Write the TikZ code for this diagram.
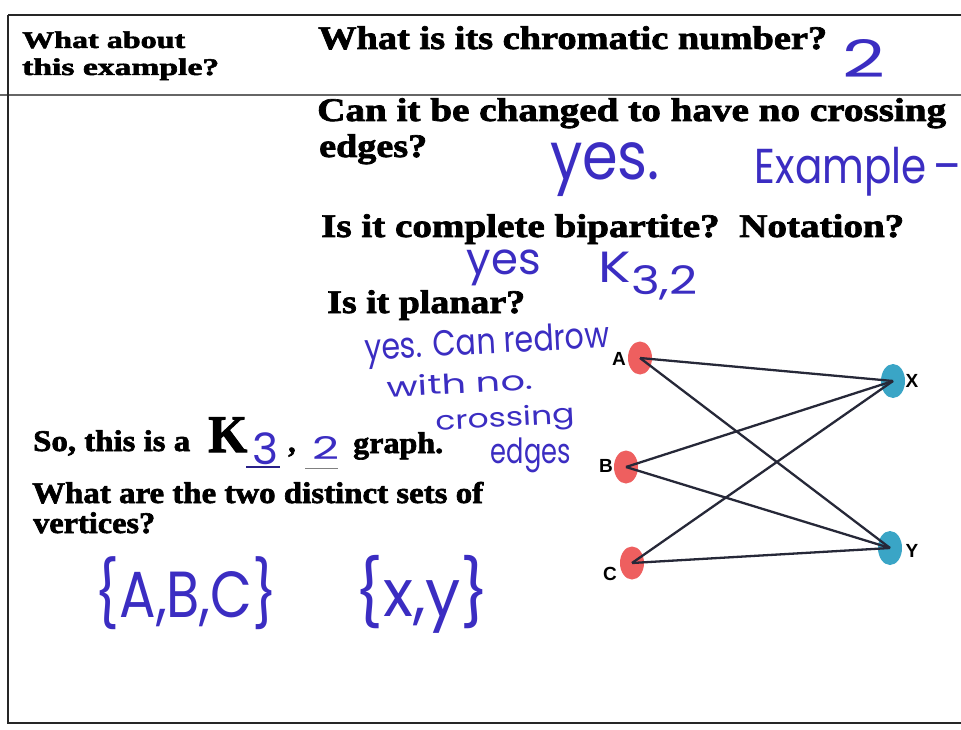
\documentclass[tikz,border=0pt]{standalone}
\usepackage{fontspec}
\usepackage{graphicx}
\usetikzlibrary{shapes.geometric}
\newfontfamily\schfont{Liberation Serif}[BoldFeatures={FakeBold=2}]
\newfontfamily\handfont{Poppins}
\newfontfamily\labfont{Liberation Sans}
\definecolor{ink}{HTML}{3B2DC2}
\definecolor{nodered}{HTML}{EE5F5F}
\definecolor{nodeblue}{HTML}{3AA5C6}
\definecolor{edgec}{HTML}{262838}
\newcommand{\pw}[2]{\resizebox{#1pt}{\height}{#2}}
\newcommand{\hw}[3]{\resizebox*{#1pt}{#2pt}{\handfont #3}}
\begin{document}
\begin{tikzpicture}[x=1pt,y=-1pt,
  print/.style={anchor=base west, inner sep=0, font=\schfont\fontsize{33}{36}\selectfont\bfseries},
  small/.style={print, font=\schfont\fontsize{24}{26}\selectfont\bfseries},
  lower/.style={print, font=\schfont\fontsize{30}{32}\selectfont\bfseries},
  hand/.style={anchor=center, inner sep=0, text=ink},
  rule/.style={line width=2pt, draw=black!85},
  vred/.style={ellipse, fill=nodered, minimum width=24pt, minimum height=33pt, inner sep=0},
  vblue/.style={ellipse, fill=nodeblue, minimum width=24pt, minimum height=34pt, inner sep=0},
  lbl/.style={font=\labfont\bfseries\fontsize{19}{19}\selectfont, inner sep=0},
  gedge/.style={draw=edgec, line width=2.3pt},
  uline/.style={draw=ink!70!black, line width=1.5pt}]
\useasboundingbox (0,0) rectangle (961,730);
\fill[white] (0,0) rectangle (961,730);
% table rules
\coordinate (tl) at (8,15);
\coordinate (tr) at (961,15);
\coordinate (ml) at (0,95);
\coordinate (mr) at (961,95);
\coordinate (bl) at (8,723);
\coordinate (br) at (961,723);
\draw[rule, line width=2.5pt] (tl) -- (tr);
\draw[rule, line width=1.5pt, draw=black!60] (ml) -- (mr);
\draw[rule] (tl) -- (bl) -- (br);
% printed text
\node[small] (t1) at (22,48) {\pw{163}{What about}};
\node[small] (t2) at (22,75) {\pw{197}{this example?}};
\node[print] (q0) at (318,49) {\pw{509}{What is its chromatic number?}};
\node[print] (q1) at (317,121) {\pw{629}{Can it be changed to have no crossing}};
\node[print] (q1b) at (319,157) {\pw{108}{edges?}};
\node[print] (q2) at (321,237) {\pw{583}{Is it complete bipartite?\ \ Notation?}};
\node[print] (q3) at (327,313) {\pw{198}{Is it planar?}};
\node[lower] (s1) at (33,451) {\pw{157}{So, this is a}};
\node[print, font=\schfont\fontsize{53}{53}\selectfont\bfseries] (K) at (208,452) {\pw{39}{K}};
\node[lower] (comma) at (288,452) {,};
\node[lower] (s2) at (353,453) {\pw{90}{graph.}};
\node[lower] (s3) at (32,503) {\pw{451}{What are the two distinct sets of}};
\node[lower] (s4) at (33,533) {\pw{122}{vertices?}};
% handwritten answers
\node[hand] (h0) at (864,59) {\hw{43}{38}{2}};
\node[hand] (h1) at (605,170) {\hw{110}{54}{yes.}};
\node[hand] (h2) at (858,172) {\hw{206}{49}{Example\,–}};
\node[hand] (h3) at (504,268) {\hw{74}{36}{yes}};
\node[hand] (h4) at (648,276) {\hw{99}{48}{K\raisebox{-0.5ex}{\small 3,2}}};
\node[hand, rotate=3] (h5) at (487,345) {\hw{245}{36}{yes. Can redrow}};
\node[hand, rotate=3] (h6) at (460,383) {\hw{146}{21}{with no.}};
\node[hand, rotate=3] (h7) at (505,420) {\hw{139}{27}{crossing}};
\node[hand] (h8) at (531,455) {\hw{80}{35}{edges}};
\node[hand] (h9) at (265,449) {\hw{26}{32}{3}};
\node[hand] (h10) at (326,448) {\hw{27}{23}{2}};
\coordinate (u1a) at (246,467); \coordinate (u1b) at (280,467);
\coordinate (u2a) at (305,468); \coordinate (u2b) at (338,468);
\draw[uline] (u1a) -- (u1b);
\draw[uline, line width=1pt, draw=black!50] (u2a) -- (u2b);
\node[hand] (h11) at (186,593) {\hw{183}{73}{\{A,B,C\}}};
\node[hand] (h12) at (422,594) {\hw{135}{78}{\{x,y\}}};
% graph
\node[vred] (A) at (640,358) {};
\node[vred] (B) at (626,467) {};
\node[vred] (C) at (632,563) {};
\node[vblue] (X) at (893,381) {};
\node[vblue] (Y) at (890,548) {};
\node[lbl] (lA) at (619,359) {A};
\node[lbl] (lB) at (606,466) {B};
\node[lbl] (lC) at (610,574) {C};
\node[lbl] (lX) at (912,381) {X};
\node[lbl] (lY) at (912,551) {Y};
\draw[gedge] (A.center) -- (X.center);
\draw[gedge] (A.center) -- (Y.center);
\draw[gedge] (B.center) -- (X.center);
\draw[gedge] (B.center) -- (Y.center);
\draw[gedge] (C.center) -- (X.center);
\draw[gedge] (C.center) -- (Y.center);
\end{tikzpicture}
\end{document}
